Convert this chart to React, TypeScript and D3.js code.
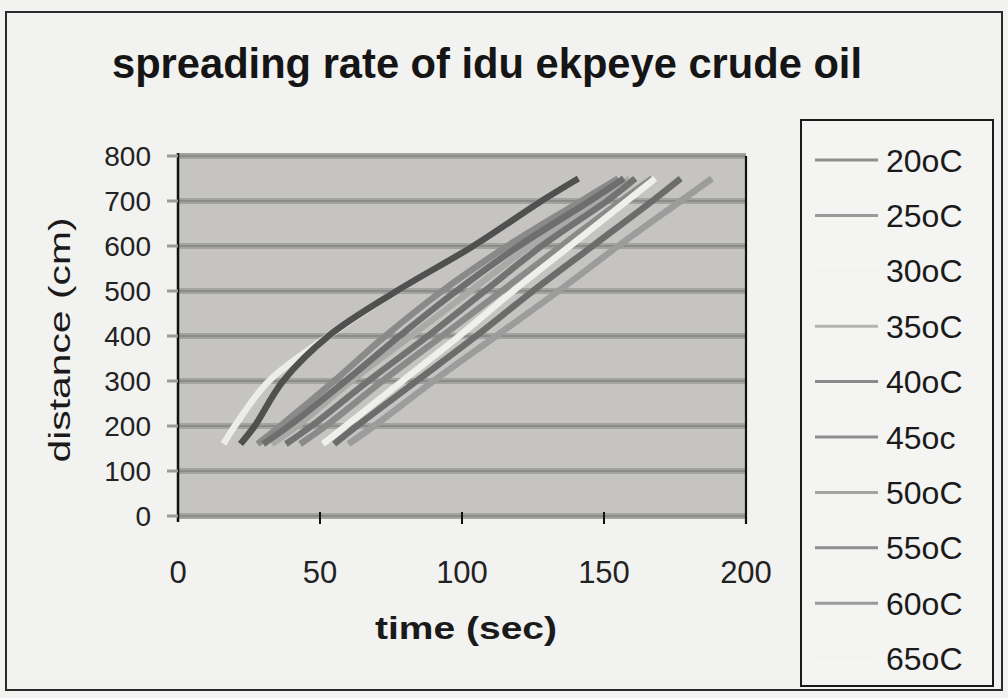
import React from "react";
import * as d3 from "d3";

// ---- data ----
const distance = [160, 200, 300, 400, 500, 600, 700, 750];
const seriesNames = ["20oC", "25oC", "30oC", "35oC", "40oC", "45oc", "50oC", "55oC", "60oC", "65oC"];
const t20 = [22, 27, 37, 53, 77, 104, 128, 141];
const t25 = [28, 36, 55, 73, 93, 116, 142, 155];
const t30 = [16, 20, 32, 53, 77, 104, 128, 141];
const t35 = [33, 42, 61, 82, 103, 124, 148, 159];
const t40 = [30, 39, 59, 78, 98, 120, 145, 157];
const t45 = [38, 47, 67, 88, 108, 128, 151, 161];
const t50 = [43, 52, 72, 93, 114, 135, 156, 167];
const t55 = [55, 63, 84, 105, 125, 146, 167, 177];
const t60 = [60, 69, 90, 112, 134, 155, 177, 188];
const t65 = [51, 59, 79, 99, 118, 138, 158, 168];
const times = [t20, t25, t30, t35, t40, t45, t50, t55, t60, t65];
const xTicks = [0, 50, 100, 150, 200];
const yTicks = [0, 100, 200, 300, 400, 500, 600, 700, 800];

// grey renderings of the (photographed) series colours
const lineColors = ["#505050", "#8a8a8a", "#ecece9", "#a9a9a7", "#6e6e6e", "#727272", "#8a8a8a", "#6c6c6c", "#9c9c9c", "#efefec"];
const legendColors = ["#8e8e8e", "#9a9a9a", "#f2f2f0", "#b4b4b2", "#8a8a8a", "#8e8e8e", "#a4a4a2", "#8e8e8e", "#9a9a9a", "#f2f2f0"];
// drawing order (light 30oC underneath)
const drawOrder = [2, 0, 1, 3, 4, 5, 6, 7, 8, 9];

const W = 1008;
const H = 698;
const FONT = "'Liberation Sans', Arial, Helvetica, sans-serif";

export default function App() {
  const x = d3.scaleLinear().domain([0, 200]).range([178, 746]);
  const y = d3.scaleLinear().domain([0, 800]).range([516, 156]);
  const line = d3
    .line<[number, number]>()
    .x((d) => x(d[0]))
    .y((d) => y(d[1]))
    .curve(d3.curveCatmullRom.alpha(0.5));

  const [x0, x1] = x.range();
  const [y0, y1] = y.range();

  return (
    <svg
      width={W}
      height={H}
      style={{ position: "absolute", left: 0, top: 0, background: "#f2f2f0" }}
      fontFamily={FONT}
    >
      <rect x={0} y={0} width={W} height={H} fill="#f2f2f0" />
      {/* outer chart frame */}
      <rect x={6} y={12} width={996} height={678} fill="none" stroke="#2a2a2a" strokeWidth={2} />

      {/* title */}
      <text
        x={487}
        y={78}
        textAnchor="middle"
        fontSize={43}
        fontWeight="bold"
        fill="#151515"
        textLength={750}
        lengthAdjust="spacingAndGlyphs"
      >
        spreading rate of idu ekpeye crude oil
      </text>

      {/* plot area */}
      <rect x={x0} y={y1} width={x1 - x0} height={y0 - y1} fill="#c5c4c1" />

      {/* gridlines */}
      {yTicks.map((v) => (
        <g key={"g" + v}>
          <line x1={x0} x2={x1} y1={y(v)} y2={y(v)} stroke="#a3a3a0" strokeWidth={6} />
          <line x1={x0} x2={x1} y1={y(v)} y2={y(v)} stroke="#838380" strokeWidth={1.3} />
        </g>
      ))}

      {/* series */}
      {drawOrder.map((i) => {
        const pts = distance.map((d, k) => [times[i][k], d] as [number, number]);
        return (
          <path
            key={seriesNames[i]}
            d={line(pts) || ""}
            fill="none"
            stroke={lineColors[i]}
            strokeWidth={6.5}
            strokeLinejoin="round"
          />
        );
      })}

      {/* axes */}
      <line x1={x0} x2={x0} y1={y1 - 3} y2={y0 + 6} stroke="#111" strokeWidth={2.5} />
      <line x1={x1} x2={x1} y1={y1} y2={y0 + 8} stroke="#111" strokeWidth={2.2} />
      {xTicks.slice(1, -1).map((v) => (
        <line key={"xt" + v} x1={x(v)} x2={x(v)} y1={y0 - 4} y2={y0 + 8} stroke="#111" strokeWidth={2} />
      ))}
      {yTicks.map((v) => (
        <line key={"yt" + v} x1={x0 - 11} x2={x0} y1={y(v)} y2={y(v)} stroke="#9a9a98" strokeWidth={3} />
      ))}

      {/* tick labels */}
      {yTicks.map((v) => (
        <text key={"yl" + v} x={151} y={y(v)} dy="0.36em" textAnchor="end" fontSize={28} fill="#222">
          {v}
        </text>
      ))}
      {xTicks.map((v) => (
        <text key={"xl" + v} x={x(v)} y={583} textAnchor="middle" fontSize={31} fill="#222">
          {v}
        </text>
      ))}

      {/* axis titles */}
      <text
        transform="translate(70,340) rotate(-90)"
        textAnchor="middle"
        fontSize={30}
        fill="#1a1a1a"
        textLength={245}
        lengthAdjust="spacingAndGlyphs"
      >
        distance (cm)
      </text>
      <text
        x={466}
        y={639}
        textAnchor="middle"
        fontSize={32}
        fontWeight="bold"
        fill="#1a1a1a"
        textLength={182}
        lengthAdjust="spacingAndGlyphs"
      >
        time (sec)
      </text>

      {/* legend */}
      <rect x={801} y={120} width={192} height={566} fill="#f4f4f2" stroke="#1a1a1a" strokeWidth={2} />
      {seriesNames.map((n, i) => {
        const cy = 160 + i * 55.4;
        return (
          <g key={"lg" + n}>
            <line x1={815} x2={878} y1={cy} y2={cy} stroke={legendColors[i]} strokeWidth={3} />
            <text x={886} y={cy} dy="0.36em" fontSize={32} fill="#1a1a1a">
              {n}
            </text>
          </g>
        );
      })}
    </svg>
  );
}
